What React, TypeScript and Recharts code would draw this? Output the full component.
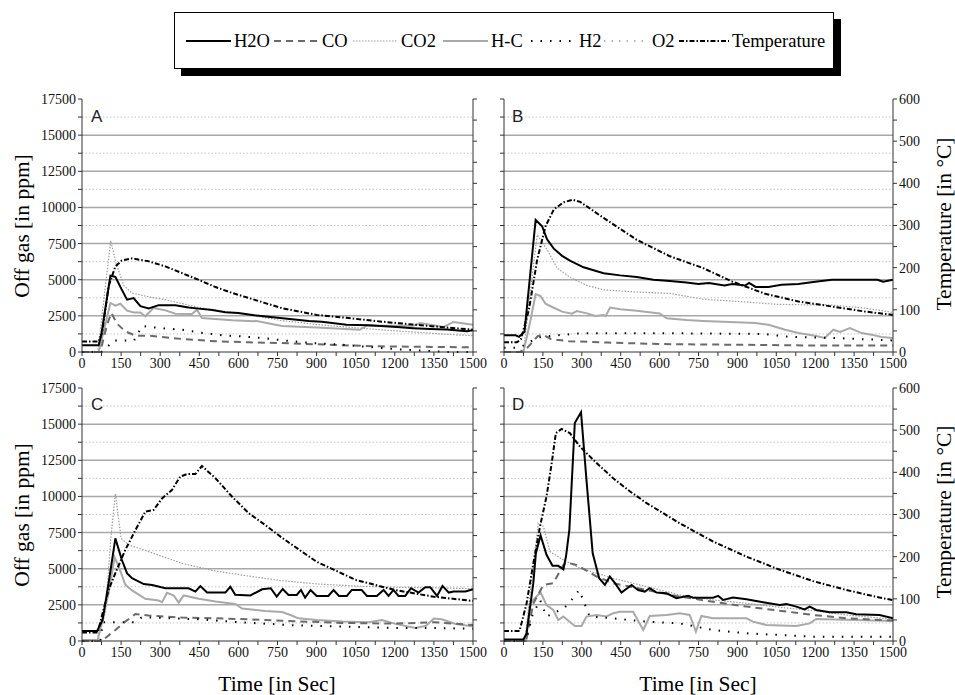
import React from "react";
import { LineChart, Line, XAxis, YAxis, CartesianGrid } from "recharts";

const FONT = '"Liberation Serif", "Times New Roman", Times, "DejaVu Serif", serif';
const SANS = '"Liberation Sans", Arial, sans-serif';

// axis ticks (minor ones carry no label)
const TIME_TICKS = [0, 75, 150, 225, 300, 375, 450, 525, 600, 675, 750, 825, 900, 975, 1050, 1125, 1200, 1275, 1350, 1425, 1500];
const PPM_TICKS = [0, 1250, 2500, 3750, 5000, 6250, 7500, 8750, 10000, 11250, 12500, 13750, 15000, 16250, 17500];
const PPM_MAJOR = [2500, 5000, 7500, 10000, 12500, 15000];
const PPM_MINOR = [1250, 3750, 6250, 8750, 11250, 13750, 16250];
const TEMP_TICKS = [0, 50, 100, 150, 200, 250, 300, 350, 400, 450, 500, 550, 600];

type Pt = [number, number];

// ---- Panel A ----
const A_H2O: Pt[] = [[0, 460], [64, 460], [75, 1300], [109, 5280], [128, 5200], [150, 4400], [173, 3620], [198, 3730], [224, 3170], [256, 3010], [294, 3240], [358, 3240], [409, 3080], [448, 3000], [500, 2900], [550, 2750], [600, 2700], [660, 2550], [760, 2350], [870, 2150], [920, 2100], [1015, 1890], [1100, 1850], [1208, 1730], [1270, 1650], [1335, 1590], [1400, 1550], [1476, 1430], [1500, 1500]];
const A_CO: Pt[] = [[0, 0], [70, 0], [96, 1890], [113, 2700], [134, 1960], [166, 1430], [205, 1130], [256, 1130], [384, 900], [512, 740], [640, 670], [760, 620], [950, 500], [1143, 390], [1500, 320]];
const A_CO2: Pt[] = [[0, 0], [60, 0], [80, 3000], [110, 7700], [130, 6200], [160, 4600], [192, 4080], [260, 3800], [320, 3620], [448, 3080], [550, 2800], [650, 2550], [760, 2190], [900, 1900], [1000, 1750], [1143, 1540], [1300, 1350], [1400, 1220], [1500, 1130]];
const A_HC: Pt[] = [[0, 0], [64, 0], [109, 3390], [128, 3200], [147, 3340], [173, 2860], [198, 2740], [224, 2740], [243, 2470], [275, 3050], [320, 2880], [358, 2650], [422, 2630], [441, 2930], [460, 2350], [576, 2190], [659, 2120], [665, 2160], [767, 1800], [900, 1700], [1066, 1540], [1092, 1820], [1271, 1820], [1297, 2000], [1387, 1730], [1425, 2080], [1500, 1890]];
const A_H2: Pt[] = [[0, 0], [75, 0], [100, 400], [120, 800], [200, 800], [230, 1800], [300, 1650], [380, 1550], [450, 1350], [540, 1150], [600, 1100], [700, 950], [800, 750], [900, 600], [1000, 500], [1100, 350], [1200, 200], [1300, 100], [1400, 0], [1500, 0]];
const A_TEMP: Pt[] = [[0, 25], [64, 25], [77, 45], [102, 156], [128, 203], [153, 217], [192, 222], [256, 215], [320, 203], [384, 187], [448, 171], [512, 154], [576, 140], [640, 128], [703, 116], [767, 104], [900, 88], [1015, 81], [1150, 72], [1271, 65], [1400, 58], [1500, 53]];

// ---- Panel B ----
const B_H2O: Pt[] = [[0, 1150], [45, 1150], [58, 1050], [79, 1400], [122, 9130], [147, 8700], [166, 7800], [192, 7150], [224, 6650], [256, 6300], [307, 5860], [384, 5450], [448, 5300], [512, 5180], [576, 5000], [640, 4910], [703, 4800], [750, 4700], [790, 4780], [850, 4600], [880, 4700], [930, 4600], [945, 4780], [970, 4500], [1020, 4500], [1070, 4650], [1135, 4700], [1200, 4860], [1265, 5000], [1440, 5000], [1462, 4860], [1500, 5000]];
const B_CO: Pt[] = [[0, 0], [60, 0], [90, 300], [130, 1100], [150, 1200], [180, 900], [250, 750], [400, 650], [600, 550], [900, 500], [1200, 450], [1500, 450]];
const B_CO2: Pt[] = [[0, 0], [75, 0], [100, 4000], [128, 8100], [166, 7100], [205, 5800], [256, 5150], [320, 4600], [384, 4300], [512, 4150], [640, 4050], [768, 3650], [900, 3500], [1050, 3300], [1135, 3270], [1260, 3250], [1390, 3040], [1500, 2740]];
const B_HC: Pt[] = [[0, 0], [75, 0], [100, 2000], [122, 4010], [141, 3870], [160, 3340], [192, 3060], [224, 2790], [262, 2650], [281, 2830], [320, 2670], [352, 2490], [384, 2560], [392, 2480], [409, 3070], [448, 2960], [512, 2850], [600, 2670], [627, 2330], [703, 2210], [768, 2150], [969, 2000], [1020, 1880], [1084, 1540], [1135, 1310], [1199, 1130], [1237, 970], [1270, 1540], [1296, 1380], [1334, 1650], [1379, 1310], [1417, 1200], [1455, 1040], [1500, 970]];
const B_H2: Pt[] = [[0, 300], [60, 300], [90, 600], [130, 1000], [200, 1150], [300, 1300], [600, 1300], [1000, 1250], [1100, 1050], [1300, 950], [1500, 800]];
const B_TEMP: Pt[] = [[0, 23], [50, 23], [65, 30], [96, 100], [128, 219], [160, 298], [192, 338], [230, 355], [265, 361], [294, 356], [384, 318], [512, 266], [640, 227], [768, 199], [880, 167], [1007, 138], [1135, 120], [1263, 108], [1391, 96], [1500, 88]];

// ---- Panel C ----
const C_H2O: Pt[] = [[0, 690], [58, 690], [79, 1450], [102, 4000], [128, 7100], [153, 5600], [173, 4680], [192, 4340], [237, 3940], [269, 3880], [320, 3650], [409, 3650], [435, 3420], [454, 3800], [480, 3350], [550, 3350], [569, 3750], [588, 3200], [646, 3150], [691, 3580], [724, 3650], [747, 3070], [770, 3600], [792, 3190], [824, 3190], [840, 3530], [856, 3000], [877, 3530], [900, 3120], [945, 3120], [965, 3530], [986, 3120], [1016, 3120], [1035, 3530], [1073, 3530], [1093, 3120], [1131, 3120], [1157, 3530], [1176, 3120], [1195, 3530], [1214, 3120], [1240, 3120], [1262, 3650], [1291, 3350], [1317, 3720], [1336, 3720], [1362, 3120], [1383, 3810], [1407, 3350], [1426, 3420], [1471, 3420], [1500, 3580]];
const C_CO: Pt[] = [[0, 0], [75, 0], [96, 300], [128, 760], [166, 1340], [205, 1870], [256, 1760], [384, 1620], [512, 1570], [640, 1500], [767, 1400], [1000, 1250], [1200, 1200], [1350, 1300], [1500, 1100]];
const C_CO2: Pt[] = [[0, 0], [60, 0], [90, 2000], [110, 7000], [128, 10200], [150, 7100], [180, 6640], [256, 6180], [384, 5370], [512, 4840], [640, 4490], [767, 4170], [900, 3950], [1050, 3800], [1200, 3720], [1350, 3680], [1500, 3620]];
const C_HC: Pt[] = [[0, 70], [60, 70], [102, 3300], [125, 5790], [141, 5150], [166, 3900], [192, 3500], [243, 2920], [294, 2800], [307, 2690], [326, 3330], [352, 3150], [371, 2650], [390, 3150], [448, 2920], [512, 2740], [588, 2560], [614, 2240], [703, 2080], [767, 2010], [800, 1800], [830, 1570], [900, 1450], [1000, 1350], [1100, 1300], [1150, 1450], [1200, 1200], [1250, 1000], [1280, 900], [1320, 1050], [1350, 1550], [1380, 1500], [1430, 1200], [1500, 1000]];
const C_H2: Pt[] = [[0, 0], [70, 0], [80, 1300], [200, 1300], [230, 1650], [300, 1600], [450, 1500], [600, 1300], [800, 1100], [1000, 1000], [1200, 900], [1350, 900], [1500, 850]];
const C_TEMP: Pt[] = [[0, 20], [60, 20], [102, 121], [128, 161], [166, 216], [205, 263], [243, 307], [275, 311], [307, 338], [345, 358], [377, 390], [403, 396], [435, 396], [460, 415], [512, 386], [576, 342], [640, 303], [703, 275], [767, 245], [900, 188], [1050, 145], [1200, 121], [1350, 105], [1500, 95]];

// ---- Panel D ----
const D_H2O: Pt[] = [[0, 100], [75, 100], [87, 530], [113, 4000], [123, 6070], [141, 7300], [164, 5960], [187, 5200], [209, 5200], [229, 4960], [239, 5840], [252, 7690], [273, 15080], [297, 15820], [318, 11150], [342, 6070], [367, 4340], [389, 3880], [408, 4460], [428, 4000], [453, 3350], [492, 3880], [517, 3530], [543, 3420], [562, 3650], [588, 3350], [627, 3300], [665, 2960], [710, 3120], [729, 3000], [806, 3000], [826, 3120], [845, 2840], [883, 3000], [935, 2890], [999, 2680], [1063, 2490], [1089, 2550], [1127, 2380], [1159, 2190], [1179, 2380], [1204, 2150], [1256, 1990], [1320, 1990], [1358, 1850], [1448, 1800], [1500, 1570]];
const D_CO: Pt[] = [[0, 0], [85, 0], [113, 2600], [152, 3880], [190, 4000], [229, 5260], [241, 5430], [280, 5260], [357, 4460], [421, 4000], [550, 3530], [678, 3070], [806, 2720], [935, 2380], [1063, 2100], [1192, 1800], [1320, 1570], [1500, 1410]];
const D_CO2: Pt[] = [[0, 0], [80, 0], [113, 5150], [132, 8150], [152, 7920], [177, 6190], [229, 5610], [293, 5030], [421, 4340], [550, 3760], [678, 3190], [806, 2840], [935, 2610], [1063, 2330], [1192, 2100], [1320, 1800], [1500, 1500]];
const D_HC: Pt[] = [[0, 0], [85, 0], [100, 2600], [141, 3370], [164, 2490], [190, 2150], [209, 1450], [229, 1690], [273, 1040], [299, 1040], [318, 1690], [357, 1800], [395, 1700], [421, 1920], [447, 2030], [498, 2030], [537, 760], [562, 1730], [627, 1800], [678, 1920], [716, 1800], [740, 650], [761, 1730], [806, 1570], [935, 1570], [960, 1340], [1012, 1110], [1127, 1040], [1179, 1220], [1204, 1520], [1500, 1390]];
const D_H2: Pt[] = [[0, 0], [85, 0], [110, 1800], [139, 2840], [164, 1690], [230, 2260], [250, 2600], [290, 3530], [330, 1700], [400, 1600], [550, 1340], [678, 1220], [806, 760], [935, 530], [1063, 415], [1192, 300], [1500, 300]];
const D_TEMP: Pt[] = [[0, 24], [60, 24], [87, 89], [113, 184], [139, 272], [164, 343], [184, 422], [200, 493], [222, 503], [254, 493], [293, 461], [357, 422], [421, 386], [485, 355], [550, 327], [678, 279], [806, 236], [935, 200], [1063, 169], [1192, 142], [1320, 121], [1448, 103], [1500, 97]];

const LEGEND_NAMES = ["H2O", "CO", "CO2", "H-C", "H2", "O2", "Temperature"];

const STYLES: Record<string, { stroke: string; width: number; dash?: string }> = {
  H2O: { stroke: "#000", width: 2 },
  CO: { stroke: "#6a6a6a", width: 2, dash: "7 5" },
  CO2: { stroke: "#9c9c9c", width: 1.2, dash: "1.5 1.5" },
  "H-C": { stroke: "#a9a9a9", width: 2 },
  H2: { stroke: "#000", width: 2, dash: "1.5 8" },
  O2: { stroke: "#a0a0a0", width: 1.5, dash: "1.5 6" },
  Temperature: { stroke: "#000", width: 2, dash: "5 2 1.5 2" },
};

const toPts = (arr: Pt[]) => arr.map(([t, v]) => ({ t, v }));

type Series = { name: string; data: Pt[] };

const panelSeries = (h2o: Pt[], co: Pt[], co2: Pt[], hc: Pt[], h2: Pt[], temp: Pt[]): Series[] => [
  { name: "CO2", data: co2 },
  { name: "H-C", data: hc },
  { name: "CO", data: co },
  { name: "H2", data: h2 },
  { name: "H2O", data: h2o },
  { name: "Temperature", data: temp },
];

const tickStyle = { fontSize: 14, fill: "#111", fontFamily: FONT };

function Panel(props: {
  x: number; y: number; width: number; yLeftWidth: number; yRightWidth: number;
  leftLabels: boolean; rightLabels: boolean; series: Series[];
}) {
  const { x, y, width, yLeftWidth, yRightWidth, leftLabels, rightLabels, series } = props;
  return (
    <div style={{ position: "absolute", left: x, top: y }}>
      <LineChart width={width} height={292} margin={{ top: 9, right: 0, bottom: 0, left: 0 }}>
        <CartesianGrid yAxisId="ppm" vertical={false} horizontalValues={PPM_MINOR} stroke="#c4c4c4" strokeDasharray="1.5 2" />
        <CartesianGrid yAxisId="ppm" vertical={false} horizontalValues={PPM_MAJOR} stroke="#a8a8a8" strokeWidth={1.5} />
        <XAxis
          type="number" dataKey="t" domain={[0, 1500]} ticks={TIME_TICKS} interval={0}
          tickFormatter={(v: number) => (v % 150 === 0 ? String(v) : "")}
          height={30} stroke="#333" tickSize={4} tick={tickStyle}
        />
        <XAxis
          xAxisId="top" orientation="top" type="number" dataKey="t" domain={[0, 1500]}
          ticks={TIME_TICKS} interval={0} tick={false} height={0} mirror stroke="#333" tickSize={3}
        />
        <YAxis
          yAxisId="ppm" type="number" domain={[0, 17500]} ticks={PPM_TICKS} interval={0}
          tickFormatter={(v: number) => (leftLabels && v % 2500 === 0 ? String(v) : "")}
          width={yLeftWidth} stroke="#333" tickSize={4} tick={tickStyle}
        />
        <YAxis
          yAxisId="temp" orientation="right" type="number" domain={[0, 600]} ticks={TEMP_TICKS} interval={0}
          tickFormatter={(v: number) => (rightLabels && v % 100 === 0 ? String(v) : "")}
          width={yRightWidth} stroke="#333" tickSize={4} tick={tickStyle}
        />
        {series.map((s) => {
          const st = STYLES[s.name];
          return (
            <Line
              key={s.name}
              name={s.name}
              yAxisId={s.name === "Temperature" ? "temp" : "ppm"}
              data={toPts(s.data)}
              dataKey="v"
              type="linear"
              stroke={st.stroke}
              strokeWidth={st.width}
              strokeDasharray={st.dash}
              dot={false}
              activeDot={false}
              isAnimationActive={false}
            />
          );
        })}
      </LineChart>
    </div>
  );
}

// legend sample positions inside the box
const LEGEND_X = [11, 99, 178, 268, 356, 429, 504];

function LegendBox() {
  return (
    <div
      style={{
        position: "absolute", left: 174, top: 12, width: 658, height: 55,
        border: "1px solid #000", background: "#fff", boxShadow: "7px 7px 0 #000",
      }}
    >
      <svg width={658} height={55}>
        {LEGEND_NAMES.map((n, i) => {
          const st = STYLES[n];
          const x0 = LEGEND_X[i];
          const len = n === "Temperature" ? 50 : 45;
          return (
            <g key={n}>
              <line x1={x0} x2={x0 + len} y1={28} y2={28} stroke={st.stroke} strokeWidth={st.width} strokeDasharray={st.dash} />
              <text x={x0 + len + 3} y={34} style={{ fontFamily: FONT }} fontSize={18.5} fill="#000">{n}</text>
            </g>
          );
        })}
      </svg>
    </div>
  );
}

export default function App() {
  return (
    <div style={{ position: "absolute", left: 0, top: 0, width: 955, height: 695, background: "#fff", overflow: "hidden", fontFamily: FONT }}>
      <LegendBox />
      <Panel x={0} y={90} width={492} yLeftWidth={82} yRightWidth={19} leftLabels rightLabels={false}
        series={panelSeries(A_H2O, A_CO, A_CO2, A_HC, A_H2, A_TEMP)} />
      <Panel x={480} y={90} width={475} yLeftWidth={24} yRightWidth={62} leftLabels={false} rightLabels
        series={panelSeries(B_H2O, B_CO, B_CO2, B_HC, B_H2, B_TEMP)} />
      <Panel x={0} y={379} width={492} yLeftWidth={82} yRightWidth={19} leftLabels rightLabels={false}
        series={panelSeries(C_H2O, C_CO, C_CO2, C_HC, C_H2, C_TEMP)} />
      <Panel x={480} y={379} width={475} yLeftWidth={24} yRightWidth={62} leftLabels={false} rightLabels
        series={panelSeries(D_H2O, D_CO, D_CO2, D_HC, D_H2, D_TEMP)} />
      <svg width={955} height={695} style={{ position: "absolute", left: 0, top: 0, pointerEvents: "none" }}>
        <g style={{ fontFamily: SANS }} fontSize={17} fill="#222">
          <text x={91} y={122}>A</text>
          <text x={512} y={122}>B</text>
          <text x={91} y={410}>C</text>
          <text x={512} y={410}>D</text>
        </g>
        <g style={{ fontFamily: FONT }} fontSize={21.5} fill="#000" textAnchor="middle" dominantBaseline="central">
          <text transform="translate(22,226) rotate(-90)">Off gas [in ppm]</text>
          <text transform="translate(22,515) rotate(-90)">Off gas [in ppm]</text>
          <text transform="translate(944,224) rotate(-90)">Temperature [in °C]</text>
          <text transform="translate(944,512) rotate(-90)">Temperature [in °C]</text>
          <text x={277} y={684}>Time [in Sec]</text>
          <text x={698} y={684}>Time [in Sec]</text>
        </g>
      </svg>
    </div>
  );
}
